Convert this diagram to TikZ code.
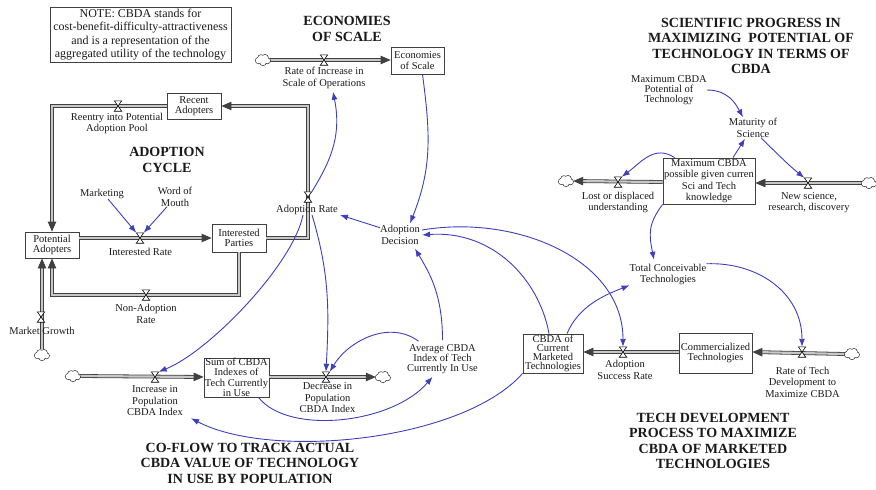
\documentclass[tikz,border=0pt]{standalone}
\usepackage{fontspec}
\setmainfont{Liberation Serif}
\usetikzlibrary{arrows.meta}
\definecolor{linkblue}{RGB}{62,62,190}
\tikzset{
  lbl/.style={align=center, inner sep=0pt, text=black!90, font=\fontsize{10.5}{11.5}\selectfont},
  ttl/.style={align=center, inner sep=0pt, text=black!90, font=\bfseries\fontsize{14}{15.5}\selectfont},
  stock/.style={draw=black!75, line width=0.8pt, fill=white, align=center, inner sep=0pt, text=black!90, font=\fontsize{10.5}{10.5}\selectfont},
  cloudbox/.style={inner sep=0pt, minimum width=14pt, minimum height=11pt},
  cloudpic/.pic={
    \foreach \cx/\cy/\r in {-4.5/0.5/2.8, -2/-2/3, 2/-2.2/3, 4.5/0.8/2.6, 0/2.3/3}
      {\draw[black!80, line width=1.3pt] (\cx,\cy) circle (\r);}
    \foreach \cx/\cy/\r in {-4.5/0.5/2.8, -2/-2/3, 2/-2.2/3, 4.5/0.8/2.6, 0/2.3/3}
      {\fill[white] (\cx,\cy) circle (\r);}
  },
  valvebox/.style={inner sep=0pt, minimum width=7pt, minimum height=10pt},
  pipe/.style={draw=black!75, line width=0.8pt, double=black!22, double distance=2.2pt, -{Triangle[length=10pt,width=8.5pt]}},
  infolink/.style={draw=linkblue, line width=0.9pt, -{Latex[length=8pt,width=6pt]}}
}
\newcommand\drawvalve[1]{\draw[fill=white, line width=0.6pt] (#1.north west) -- (#1.north east) -- (#1.south west) -- (#1.south east) -- cycle;}

\begin{document}
\begin{tikzpicture}[x=1pt,y=-1pt]
  %%%%% START %%%%%
  \useasboundingbox (0,0) rectangle (876,490);

  % titles and note
  \node[draw=black!75, line width=0.8pt, minimum width=181pt, minimum height=55pt, align=center, inner sep=0pt, text=black!90, font=\fontsize{12}{13.3}\selectfont] (note) at (140.5,34.5) {NOTE: CBDA stands for\\cost-benefit-difficulty-attractiveness\\and is a representation of the\\aggregated utility of the technology};
  \node[ttl] (tEcon) at (347,29) {ECONOMIES\\OF SCALE};
  \node[ttl] (tAdopt) at (167,160) {ADOPTION\\CYCLE};
  \node[ttl] (tSci) at (751,46) {SCIENTIFIC PROGRESS IN\\MAXIMIZING\ \ POTENTIAL OF\\TECHNOLOGY IN TERMS OF\\CBDA};
  \node[ttl] (tTech) at (713,441) {TECH DEVELOPMENT\\PROCESS TO MAXIMIZE\\CBDA OF MARKETED\\TECHNOLOGIES};
  \node[ttl] (tCoflow) at (250,463) {CO-FLOW TO TRACK ACTUAL\\CBDA VALUE OF TECHNOLOGY\\IN USE BY POPULATION};

  % stocks
  \node[stock, minimum width=53pt, minimum height=27pt] (stEcon) at (417.5,60.5) {Economies\\of Scale};
  \node[stock, minimum width=54pt, minimum height=26pt] (stRecent) at (194,106) {Recent\\Adopters};
  \node[stock, minimum width=54pt, minimum height=26pt] (stPotential) at (52,245) {Potential\\Adopters};
  \node[stock, minimum width=54pt, minimum height=28pt] (stInterested) at (239,238) {Interested\\Parties};
  \node[stock, minimum width=65pt, minimum height=39pt] (stSum) at (236.5,377.5) {Sum of CBDA\\Indexes of\\Tech Currently\\in Use};
  \node[stock, minimum width=60pt, minimum height=39pt, font=\fontsize{10.5}{9}\selectfont] (stCBDA) at (553,353.5) {CBDA of\\Current\\Marketed\\Technologies};
  \node[stock, minimum width=73pt, minimum height=40pt] (stComm) at (715.5,353) {Commercialized\\Technologies};
  \node[stock, minimum width=92pt, minimum height=46pt, font=\fontsize{10.5}{11.5}\selectfont] (stMaxPoss) at (709,181) {Maximum CBDA\\possible given curren\\Sci and Tech\\knowledge};

  % clouds
  \node[cloudbox] (cloudScale) at (263,60) {};
  \node[cloudbox] (cloudMarket) at (42,355) {};
  \node[cloudbox] (cloudInc) at (73,376) {};
  \node[cloudbox] (cloudDec) at (383,377) {};
  \node[cloudbox] (cloudLost) at (566,181) {};
  \node[cloudbox] (cloudNew) at (869,183) {};
  \node[cloudbox] (cloudRate) at (852,354) {};

  % valves
  \node[valvebox] (vScale) at (324,60) {};
  \node[valvebox] (vReentry) at (118,106) {};
  \node[valvebox] (vInterest) at (140,238) {};
  \node[valvebox] (vAdopt) at (308,197) {};
  \node[valvebox] (vNonAdopt) at (146,295) {};
  \node[valvebox] (vMarket) at (41,317) {};
  \node[valvebox] (vInc) at (155,377) {};
  \node[valvebox] (vDec) at (326,377) {};
  \node[valvebox] (vLost) at (618,182) {};
  \node[valvebox] (vNew) at (808,183) {};
  \node[valvebox] (vRate) at (802,352) {};
  \node[valvebox] (vSuccess) at (623,352) {};

  % pipes
  \draw[pipe] (cloudScale.east) -- (stEcon.west |- vScale);
  \draw[pipe] (stInterested.east) -| (vAdopt.center) |- (stRecent.east);
  \draw[pipe] (stRecent.west) -| (stPotential.north);
  \draw[pipe] (stPotential.east |- vInterest) -- (stInterested.west |- vInterest);
  \draw[pipe] (stInterested.south) |- (vNonAdopt.center) -| (stPotential.south);
  \draw[pipe] (cloudMarket.north) -- (cloudMarket.north |- stPotential.south);
  \draw[pipe] (cloudInc.east) -- (stSum.west |- vInc);
  \draw[pipe] (stSum.east |- vDec) -- (cloudDec.west);
  \draw[pipe] (cloudNew.west) -- (stMaxPoss.east |- vNew);
  \draw[pipe] (stMaxPoss.west |- vLost) -- (cloudLost.east);
  \draw[pipe] (cloudRate.west) -- (stComm.east |- vRate);
  \draw[pipe] (stComm.west |- vSuccess) -- (stCBDA.east |- vSuccess);

  \foreach \v in {vScale,vReentry,vInterest,vAdopt,vNonAdopt,vMarket,vInc,vDec,vLost,vNew,vRate,vSuccess}
    {\drawvalve{\v}}
  \foreach \c in {cloudScale,cloudMarket,cloudInc,cloudDec,cloudLost,cloudNew,cloudRate}
    {\pic at (\c) {cloudpic};}

  % labels
  \node[lbl] (lScale) at (324,78) {Rate of Increase in\\Scale of Operations};
  \node[lbl] (lReentry) at (117,123.5) {Reentry into Potential\\Adoption Pool};
  \node[lbl] (lMarketing) at (102,194) {Marketing};
  \node[lbl] (lWord) at (175,197) {Word of\\Mouth};
  \node[lbl] (lInterest) at (140.5,252) {Interested Rate};
  \node[lbl] (lAdopt) at (307,210) {Adoption Rate};
  \node[lbl] (lNonAdopt) at (146,314) {Non-Adoption\\Rate};
  \node[lbl] (lMarket) at (42,331) {Market Growth};
  \node[lbl] (lDecision) at (400,235) {Adoption\\Decision};
  \node[lbl] (lInc) at (155,401) {Increase in\\Population\\CBDA Index};
  \node[lbl] (lDec) at (327.5,398) {Decrease in\\Population\\CBDA Index};
  \node[lbl, font=\fontsize{10.5}{10}\selectfont] (lAverage) at (442.5,359) {Average CBDA\\Index of Tech\\Currently In Use};
  \node[lbl, font=\fontsize{10.5}{10}\selectfont] (lMaxPot) at (669,90) {Maximum CBDA\\Potential of\\Technology};
  \node[lbl] (lMaturity) at (753,128) {Maturity of\\Science};
  \node[lbl] (lLost) at (618,202.5) {Lost or displaced\\understanding};
  \node[lbl] (lNew) at (809,202.5) {New science,\\research, discovery};
  \node[lbl] (lTotal) at (668,274.5) {Total Conceivable\\Technologies};
  \node[lbl] (lSuccess) at (625,370) {Adoption\\Success Rate};
  \node[lbl] (lRate) at (802.5,382) {Rate of Tech\\Development to\\Maximize CBDA};

  % information links
  \draw[infolink] (vAdopt.north east) .. controls +(22,-35) and +(8,40) .. ([xshift=9pt,yshift=-3pt]lScale.south);
  \draw[infolink] ([xshift=5pt]stEcon.south) .. controls +(8,60) and +(22,-55) .. ([xshift=10pt,yshift=2pt]lDecision.north);
  \draw[infolink] (lDecision.160) -- ([xshift=2pt]lAdopt.south east);
  \draw[infolink] ([xshift=-4pt]lAdopt.south) .. controls +(-10,50) and +(50,-20) .. (vInc.north east);
  \draw[infolink] ([xshift=5pt]lAdopt.south) .. controls +(18,60) and +(3,-60) .. (vDec.north);
  \draw[infolink] ([xshift=-24pt,yshift=3pt]lAverage.north) .. controls +(-30,-22) and +(18,-30) .. (vDec.north east);
  \draw[infolink] ([yshift=4pt]lAverage.north) .. controls +(0,-45) and +(15,25) .. ([xshift=15pt,yshift=-4pt]lDecision.south);
  \draw[infolink] ([xshift=22pt]stSum.south) .. controls +(30,38) and +(-40,47) .. ([xshift=-10pt,yshift=-3pt]lAverage.south);
  \draw[infolink] (stCBDA.south west) .. controls +(-60,68) and +(80,42) .. ([xshift=8pt,yshift=-2pt]lInc.south east);
  \draw[infolink] ([xshift=-4pt]stCBDA.north) .. controls +(-10,-55) and +(70,-5) .. ([xshift=2pt]lDecision.east);
  \draw[infolink] ([xshift=2pt,yshift=5pt]lDecision.east) .. controls +(95,-16) and +(0,-87) .. (vSuccess.north);
  \draw[infolink] ([xshift=14pt]stCBDA.north) .. controls +(12,-28) and +(-25,10) .. (lTotal.south west);
  \draw[infolink] (stMaxPoss.south west) .. controls +(-15,20) and +(-5,-25) .. ([xshift=-14pt,yshift=4pt]lTotal.north);
  \draw[infolink] (lTotal.north east) .. controls +(50,-2) and +(0,-55) .. (vRate.north);
  \draw[infolink] ([xshift=12pt]stMaxPoss.north west) .. controls +(-20,-13) and +(20,-15) .. (vLost.north east);
  \draw[infolink] ([xshift=24pt]stMaxPoss.north) .. controls +(5,-8) and +(-5,8) .. ([xshift=-8pt,yshift=-1pt]lMaturity.south);
  \draw[infolink] (lMaxPot.east) .. controls +(20,0) and +(-8,-15) .. ([xshift=-10pt,yshift=1pt]lMaturity.north);
  \draw[infolink] ([xshift=8pt]lMaturity.south) .. controls +(15,15) and +(-15,-12) .. (vNew.north west);
  \draw[infolink] ([xshift=6pt]lMarketing.south) -- (vInterest.north west);
  \draw[infolink] ([xshift=-8pt]lWord.south) -- (vInterest.north east);

  %%%%% END %%%%%
\end{tikzpicture}
\end{document}
